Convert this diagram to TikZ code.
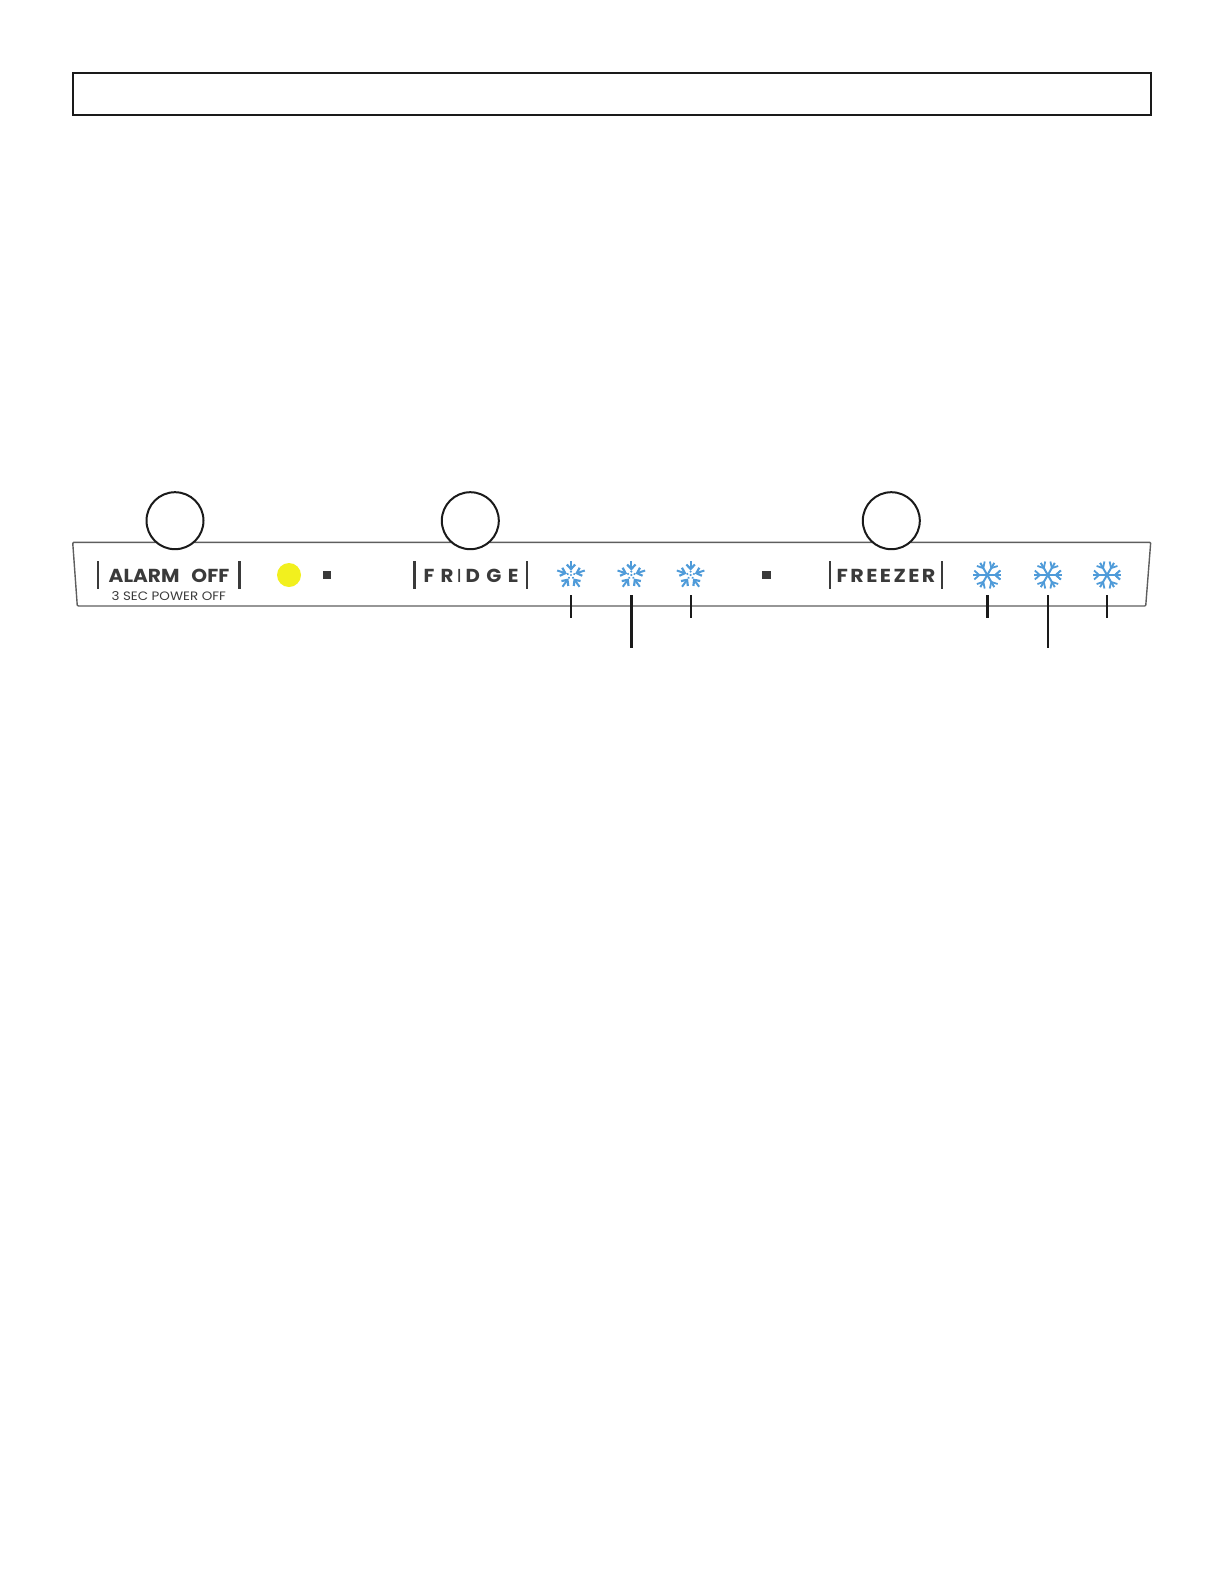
\documentclass[tikz,border=0pt]{standalone}
\usepackage{fontspec}
\setmainfont{Poppins}
\usetikzlibrary{calc}
\definecolor{ink}{HTML}{3A3A3A}
\definecolor{frame}{HTML}{1A1A1A}
\definecolor{panelline}{HTML}{5E5E5E}
\definecolor{iceblue}{HTML}{4F9BD9}
\definecolor{lamp}{HTML}{F2F01E}

\begin{document}
\begin{tikzpicture}[
  x=.5pt,y=-.5pt,
  banner/.style={draw=frame,line width=1pt,minimum width=539pt,minimum height=21pt,inner sep=0pt},
  button/.style={circle,draw=frame,fill=white,line width=1pt,minimum size=28.5pt,inner sep=0pt},
  title/.style={text=ink,font=\bfseries\fontsize{9.4}{10}\selectfont,inner sep=0pt},
  subtitle/.style={text=ink,font=\fontsize{6.1}{7}\selectfont,inner sep=0pt},
  lampdot/.style={circle,fill=lamp,minimum size=12pt,inner sep=0pt},
  marker/.style={fill=ink,minimum size=4.3pt,inner sep=0pt},
  slot/.style={minimum size=20pt,inner sep=0pt},
  bar/.style={draw=ink,line width=#1},
  leader/.style={draw=frame,line width=#1},
  pics/fridgeflake/.style={code={
    \foreach \a in {0,72,...,288} {
      \draw[iceblue,line width=1pt,rotate=\a] (0,-6.5) -- (0,-14.5);
      \draw[iceblue,line width=1.1pt,rotate=\a] (-4.2,-10.5) -- (0,-6) -- (4.2,-10.5);
      \fill[iceblue,rotate=\a] (0,-3.4) circle (.6pt);
    }
    \fill[iceblue] (0,0) circle (.6pt);
  }},
  pics/freezerflake/.style={code={
    \foreach \a in {90,150,...,450} {
      \draw[iceblue,line width=1pt,rotate=\a] (0,0) -- (0,14);
      \draw[iceblue,line width=.9pt,rotate=\a] (-4.5,13) -- (0,8) -- (4.5,13);
    }
  }}
]
\useasboundingbox (0,0) rectangle (1224,1584);

\node[banner,anchor=north west] (header) at (72,72) {};

% control panel
\draw[panelline,line width=.7pt,rounded corners=.5pt] (72.7,542.3) -- (1150.7,542.3)
  -- (1145.7,606) -- (77.3,606) -- cycle;

\node[button] (alarmbutton) at (175,520.7) {};
\node[button] (fridgebutton) at (470.3,520.7) {};
\node[button] (freezerbutton) at (891.3,520.7) {};

\node[title] (alarmoff) at (169,575.5) {\addfontfeature{FakeStretch=1.07}ALARM\hspace{6pt}OFF};
\node[subtitle] (poweroff) at (168.7,596.5) {\addfontfeature{FakeStretch=1.1}3 SEC POWER OFF};
\node[title] (fridge) at (471,575.5)
  {\addfontfeature{FakeStretch=1.05,LetterSpace=34}FR\hspace{1.6pt}{\mdseries I}\hspace{2pt}DGE};
\node[title] (freezer) at (886,575.5) {\addfontfeature{FakeStretch=1.1,LetterSpace=13}FREEZER};

\foreach \x/\w in {98/.9pt,239.7/1.4pt,414.3/1.3pt,527/1pt,830/.9pt,942/1.1pt}
  \draw[bar=\w] (\x,561) -- (\x,589.3);

\node[lampdot] (lamp) at (289,575) {};
\node[marker] (fridgemark) at (327,575) {};
\node[marker] (freezermark) at (766.3,575) {};

\foreach \name/\x/\kind/\w/\yend in {
  fridgelow/571/fridgeflake/.9pt/617.7,
  fridgemid/631.3/fridgeflake/1.4pt/647.7,
  fridgehigh/690.6/fridgeflake/1.1pt/617.7,
  freezerlow/987.3/freezerflake/1.3pt/617.7,
  freezermid/1047.8/freezerflake/.9pt/647.7,
  freezerhigh/1107/freezerflake/.9pt/617.7} {
  \node[slot] (\name) at (\x,575) {};
  \pic at (\name) {\kind};
  \coordinate (\name end) at (\x,\yend);
  \draw[leader=\w] (\name.south) -- (\name end);
}
\end{tikzpicture}
\end{document}
